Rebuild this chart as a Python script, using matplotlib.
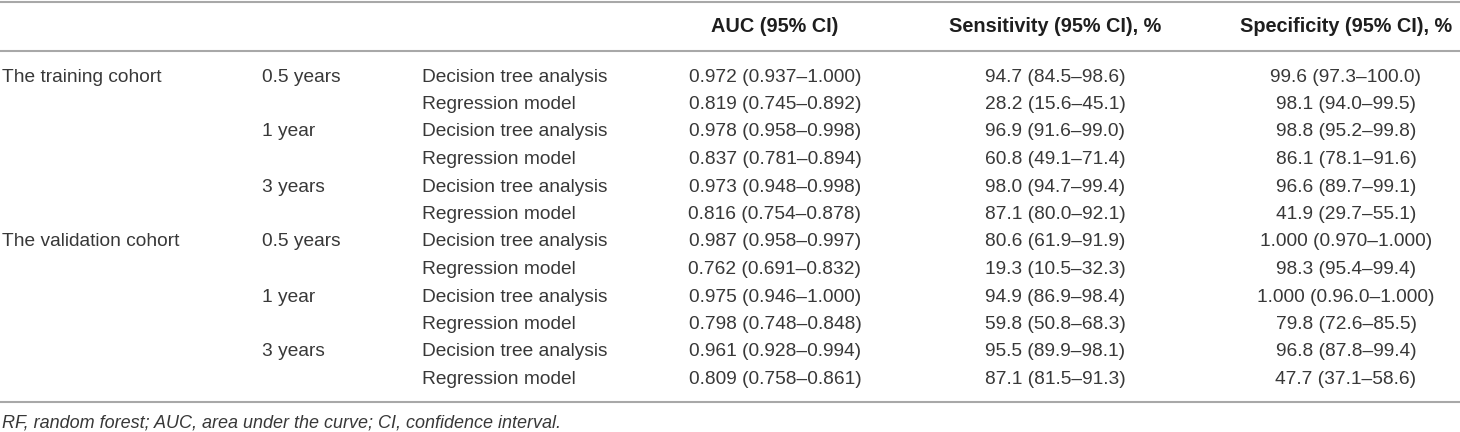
import matplotlib
matplotlib.use("Agg")
import matplotlib.pyplot as plt

plt.rcParams['font.family'] = ['Liberation Sans', 'DejaVu Sans']

# table content
headers = ["AUC (95% CI)", "Sensitivity (95% CI), %", "Specificity (95% CI), %"]
cohorts = ["The training cohort", "", "", "", "", "",
           "The validation cohort", "", "", "", "", ""]
horizons = ["0.5 years", "", "1 year", "", "3 years", "",
            "0.5 years", "", "1 year", "", "3 years", ""]
models = ["Decision tree analysis", "Regression model"] * 6
auc = ["0.972 (0.937\u20131.000)", "0.819 (0.745\u20130.892)",
       "0.978 (0.958\u20130.998)", "0.837 (0.781\u20130.894)",
       "0.973 (0.948\u20130.998)", "0.816 (0.754\u20130.878)",
       "0.987 (0.958\u20130.997)", "0.762 (0.691\u20130.832)",
       "0.975 (0.946\u20131.000)", "0.798 (0.748\u20130.848)",
       "0.961 (0.928\u20130.994)", "0.809 (0.758\u20130.861)"]
sens = ["94.7 (84.5\u201398.6)", "28.2 (15.6\u201345.1)",
        "96.9 (91.6\u201399.0)", "60.8 (49.1\u201371.4)",
        "98.0 (94.7\u201399.4)", "87.1 (80.0\u201392.1)",
        "80.6 (61.9\u201391.9)", "19.3 (10.5\u201332.3)",
        "94.9 (86.9\u201398.4)", "59.8 (50.8\u201368.3)",
        "95.5 (89.9\u201398.1)", "87.1 (81.5\u201391.3)"]
spec = ["99.6 (97.3\u2013100.0)", "98.1 (94.0\u201399.5)",
        "98.8 (95.2\u201399.8)", "86.1 (78.1\u201391.6)",
        "96.6 (89.7\u201399.1)", "41.9 (29.7\u201355.1)",
        "1.000 (0.970\u20131.000)", "98.3 (95.4\u201399.4)",
        "1.000 (0.96.0\u20131.000)", "79.8 (72.6\u201385.5)",
        "96.8 (87.8\u201399.4)", "47.7 (37.1\u201358.6)"]
footnote = "RF, random forest; AUC, area under the curve; CI, confidence interval."

# layout in pixel units
W, H = 1460, 432
left_cols = [2, 262, 422]
center_cols = [775, 1055, 1346]
row0, row_step = 77, 27.5
txt_color = '#383838'
line_color = '#a8a8a8'
fs = 13.8

fig = plt.figure(figsize=(W / 100, H / 100), dpi=100)
ax = fig.add_axes([0, 0, 1, 1])
ax.set_xlim(0, W)
ax.set_ylim(H, 0)
ax.axis('off')

for y in [1.5, 51, 402]:
    ax.axhline(y, color=line_color, linewidth=1.5)

for x, h in zip(center_cols, headers):
    ax.text(x, 27, h, ha='center', va='center', fontsize=14.3,
            fontweight='bold', color='#1e1e1e')

for i in range(len(models)):
    y = row0 + i * row_step
    for x, s in zip(left_cols, [cohorts[i], horizons[i], models[i]]):
        ax.text(x, y, s, ha='left', va='center', fontsize=fs, color=txt_color)
    for x, s in zip(center_cols, [auc[i], sens[i], spec[i]]):
        ax.text(x, y, s, ha='center', va='center', fontsize=fs, color=txt_color)

ax.text(2, 423, footnote, ha='left', va='center', fontsize=13,
        style='italic', color=txt_color)

fig.savefig("out.png", dpi=100)
